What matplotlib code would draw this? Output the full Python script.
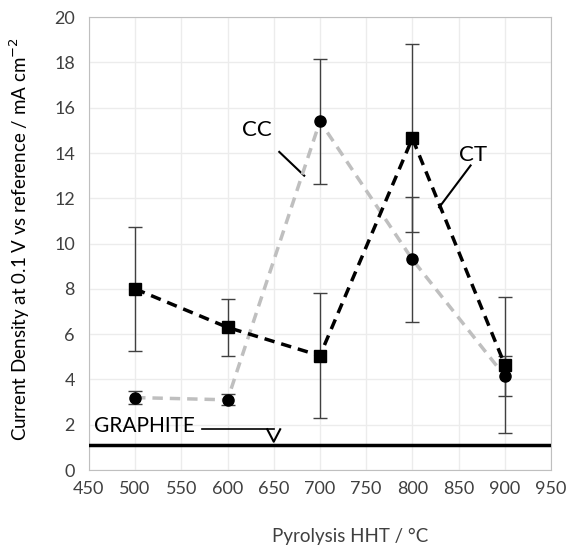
import numpy as np
import matplotlib.pyplot as plt

plt.rcParams['font.family'] = ['Lato', 'DejaVu Sans']

hht = [500, 600, 700, 800, 900]
cc_vals = [3.2, 3.1, 15.4, 9.3, 4.15]
cc_err = [0.3, 0.25, 2.75, 2.75, 0.9]
ct_vals = [8.0, 6.3, 5.05, 14.65, 4.65]
ct_err = [2.75, 1.25, 2.75, 4.15, 3.0]
graphite = 1.1

fig = plt.figure(figsize=(5.66, 5.54), dpi=100)
ax = fig.add_axes([0.157, 0.1516, 0.8165, 0.8174])

ax.errorbar(hht, ct_vals, yerr=ct_err, fmt='none', ecolor='#404040', elinewidth=1, capsize=5, zorder=2)
ax.errorbar(hht, cc_vals, yerr=cc_err, fmt='none', ecolor='#404040', elinewidth=1, capsize=5, zorder=2)
ax.plot(hht, cc_vals, ls=(0, (3, 2)), color='#bfbfbf', lw=2.5, zorder=3)
ax.plot(hht, ct_vals, ls=(0, (3, 2)), color='black', lw=2.5, zorder=4)
ax.plot(hht, cc_vals, 'o', color='black', ms=8, zorder=5)
ax.plot(hht, ct_vals, 's', color='black', ms=8, zorder=5)

ax.axhline(graphite, color='black', lw=2.5, zorder=3)

# labels
ax.text(632, 15.0, 'CC', fontsize=16, ha='center', va='center')
ax.plot([656, 683], [14.05, 13.0], color='black', lw=1.5)
ax.text(866, 13.9, 'CT', fontsize=16, ha='center', va='center')
ax.plot([863, 829], [13.45, 11.6], color='black', lw=1.5)
ax.text(456, 1.95, 'GRAPHITE', fontsize=15, ha='left', va='center')
ax.plot([572, 650], [1.8, 1.8], color='black', lw=1.2)
ax.plot([643, 650, 657], [1.8, 1.25, 1.8], color='black', lw=1.5)

ax.set_xlim(450, 950)
ax.set_ylim(0, 20)
ax.set_xticks(np.arange(450, 951, 50))
ax.set_yticks(np.arange(0, 21, 2))
ax.grid(True, color='#ececec', lw=1)
ax.set_axisbelow(True)
for s in ax.spines.values():
    s.set_color('#bfbfbf')
ax.tick_params(length=0, labelsize=13, pad=8, colors='#404040')
ax.tick_params(axis='y', pad=10)
ax.set_xlabel('Pyrolysis HHT / °C', fontsize=13.5, color='#404040', labelpad=22, x=0.565)
ax.set_ylabel('Current Density at 0.1 V vs reference / mA cm$^{-2}$', fontsize=13.5, color='black', labelpad=16, y=0.51)

fig.savefig('out.png', dpi=100)
